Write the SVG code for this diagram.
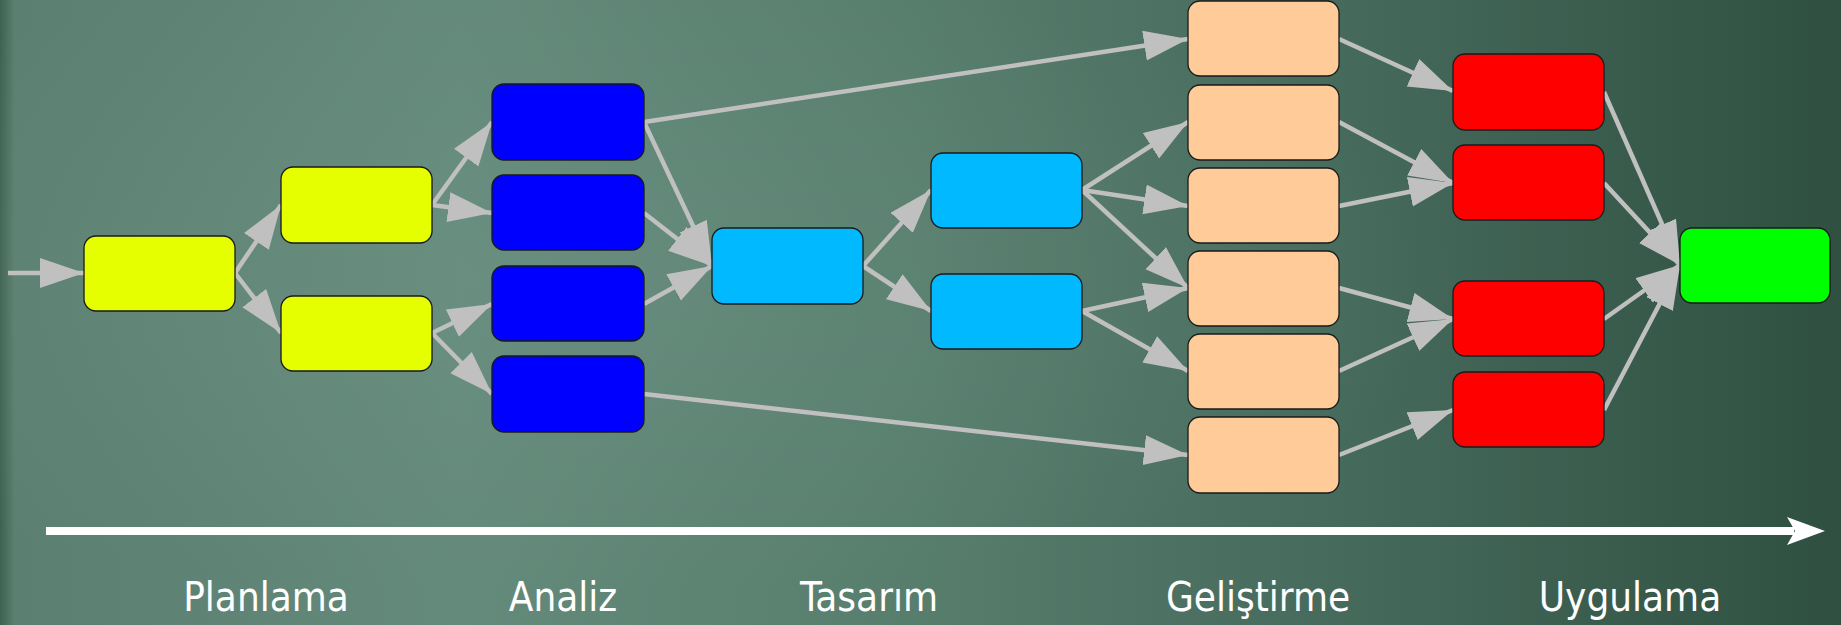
<svg xmlns="http://www.w3.org/2000/svg" width="1841" height="625" viewBox="0 0 1841 625">
<defs>
<linearGradient id="bg" x1="0" y1="0" x2="1" y2="0">
<stop offset="0" stop-color="#3f6152"/>
<stop offset="0.008" stop-color="#5b7f70"/>
<stop offset="0.25" stop-color="#648a7b"/>
<stop offset="0.5" stop-color="#577d6d"/>
<stop offset="0.75" stop-color="#44685a"/>
<stop offset="1" stop-color="#2f5041"/>
</linearGradient>
<radialGradient id="glow" cx="0.3" cy="0.45" r="0.5">
<stop offset="0" stop-color="#7a9e90" stop-opacity="0.25"/>
<stop offset="1" stop-color="#7a9e90" stop-opacity="0"/>
</radialGradient>
<marker id="ah" markerUnits="userSpaceOnUse" markerWidth="46" markerHeight="32" refX="44" refY="15" orient="auto">
<path d="M0,0 L44,15 L0,30 Z" fill="#c0c0c0"/>
</marker>
</defs>
<style>
.n{stroke:#1a1a1a;stroke-width:1.3}
.y{fill:#e5ff00}.b{fill:#0000ff}.c{fill:#00b9ff}.p{fill:#ffcc99}.r{fill:#ff0000}.g{fill:#00ff00}
#connectors path{fill:none;stroke:#c0c0c0;stroke-width:4.5;marker-end:url(#ah)}
.lbl{font-family:"DejaVu Sans Condensed","DejaVu Sans",sans-serif;font-size:40px;fill:#ffffff;text-anchor:middle}
</style>
<rect width="1841" height="625" fill="url(#bg)"/>
<rect width="1841" height="625" fill="url(#glow)"/>

<g id="connectors">
<path d="M8,273 L84,273"/>
<path d="M235,273 L281,205"/>
<path d="M235,273 L281,333"/>
<path d="M432,205 L492,122"/>
<path d="M432,205 L492,213"/>
<path d="M432,333 L492,304"/>
<path d="M432,333 L492,394"/>
<path d="M644,122 L1188,39"/>
<path d="M644,122 L712,266"/>
<path d="M644,213 L712,266"/>
<path d="M644,304 L712,266"/>
<path d="M644,394 L1188,455"/>
<path d="M863,266 L931,190"/>
<path d="M863,266 L931,311"/>
<path d="M1082,190 L1188,122"/>
<path d="M1082,190 L1188,206"/>
<path d="M1082,190 L1188,288"/>
<path d="M1082,311 L1188,288"/>
<path d="M1082,311 L1188,371"/>
<path d="M1339,39 L1453,91"/>
<path d="M1339,122 L1453,183"/>
<path d="M1339,206 L1453,183"/>
<path d="M1339,288 L1453,319"/>
<path d="M1339,371 L1453,319"/>
<path d="M1339,455 L1453,410"/>
<path d="M1604,92 L1680,265"/>
<path d="M1604,183 L1680,265"/>
<path d="M1604,319 L1680,265"/>
<path d="M1604,410 L1680,265"/>
</g>

<g id="y1"><rect class="n y" x="84" y="236" width="151" height="75" rx="12"/></g>
<g id="y2"><rect class="n y" x="281" y="167" width="151" height="76" rx="12"/></g>
<g id="y3"><rect class="n y" x="281" y="296" width="151" height="75" rx="12"/></g>
<g id="b1"><rect class="n b" x="492" y="84" width="152" height="76" rx="12"/></g>
<g id="b2"><rect class="n b" x="492" y="175" width="152" height="75" rx="12"/></g>
<g id="b3"><rect class="n b" x="492" y="266" width="152" height="75" rx="12"/></g>
<g id="b4"><rect class="n b" x="492" y="356" width="152" height="76" rx="12"/></g>
<g id="c1"><rect class="n c" x="712" y="228" width="151" height="76" rx="12"/></g>
<g id="c2"><rect class="n c" x="931" y="153" width="151" height="75" rx="12"/></g>
<g id="c3"><rect class="n c" x="931" y="274" width="151" height="75" rx="12"/></g>
<g id="p1"><rect class="n p" x="1188" y="1" width="151" height="75" rx="12"/></g>
<g id="p2"><rect class="n p" x="1188" y="85" width="151" height="75" rx="12"/></g>
<g id="p3"><rect class="n p" x="1188" y="168" width="151" height="75" rx="12"/></g>
<g id="p4"><rect class="n p" x="1188" y="251" width="151" height="75" rx="12"/></g>
<g id="p5"><rect class="n p" x="1188" y="334" width="151" height="75" rx="12"/></g>
<g id="p6"><rect class="n p" x="1188" y="417" width="151" height="76" rx="12"/></g>
<g id="r1"><rect class="n r" x="1453" y="54" width="151" height="76" rx="12"/></g>
<g id="r2"><rect class="n r" x="1453" y="145" width="151" height="75" rx="12"/></g>
<g id="r3"><rect class="n r" x="1453" y="281" width="151" height="75" rx="12"/></g>
<g id="r4"><rect class="n r" x="1453" y="372" width="151" height="75" rx="12"/></g>
<g id="gr"><rect class="n g" x="1680" y="228" width="150" height="75" rx="12"/></g>

<g id="timeline">
<rect x="46" y="527" width="1748" height="8" fill="#ffffff"/>
<polygon points="1787,517 1825,531 1787,545 1795,531" fill="#ffffff"/>
</g>

<g id="labels">
<text class="lbl" x="266" y="611">Planlama</text>
<text class="lbl" x="563" y="611">Analiz</text>
<text class="lbl" x="869" y="611">Tasarım</text>
<text class="lbl" x="1258" y="611">Geliştirme</text>
<text class="lbl" x="1630" y="611">Uygulama</text>
</g>
</svg>
